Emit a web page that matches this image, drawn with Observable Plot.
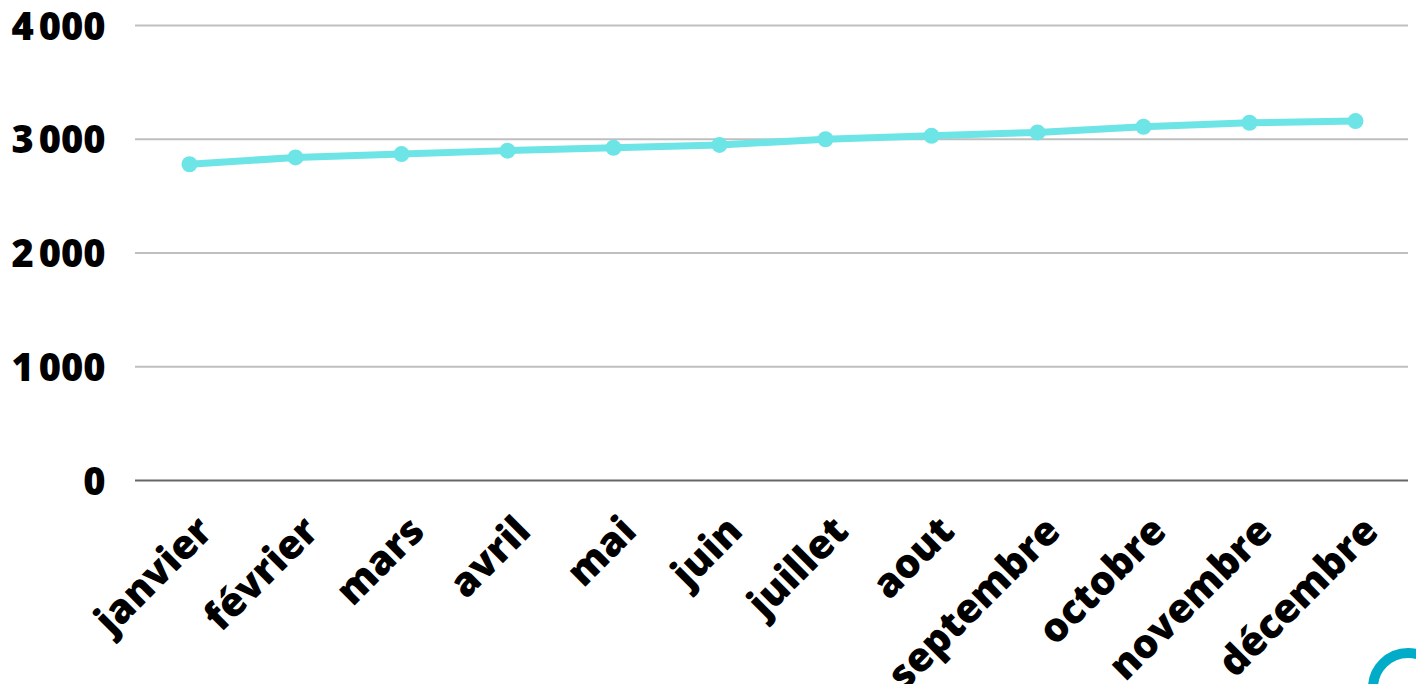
<!DOCTYPE html>
<html><head><meta charset="utf-8">
<script src="https://cdn.jsdelivr.net/npm/d3@7"></script>
<script src="https://cdn.jsdelivr.net/npm/@observablehq/plot@0.6"></script>
<style>
html,body{margin:0;padding:0;background:#fff;overflow:hidden;}
#chart{position:relative;width:1416px;height:684px;}
#logo{position:absolute;left:1368px;top:648px;width:80px;height:80px;border-radius:50%;border:10px solid #00acc8;box-sizing:border-box;}
</style></head>
<body><div id="chart"><div id="logo"></div></div>
<script>
const months = ["janvier","février","mars","avril","mai","juin","juillet","aout","septembre","octobre","novembre","décembre"];
const values = [2780,2840,2870,2900,2925,2950,3000,3030,3060,3110,3145,3160];
const yTicks = [0,1000,2000,3000,4000];
const data = months.map((m,i)=>({month:m, value:values[i]}));
const fmt = d => d === 0 ? "0" : d3.format(",")(d).replace(",", "\u202F");
const font = "'Open Sans', sans-serif";
const plot = Plot.plot({
  width:1416, height:684,
  marginLeft:135, marginRight:8, marginTop:25, marginBottom:204,
  style:{fontFamily:font, fontWeight:800, background:"#fff", color:"#000"},
  x:{type:"point", domain:months, padding:0.5, label:null},
  y:{domain:[0,4000], label:null},
  marks:[
    Plot.gridY(yTicks.filter(d=>d>0), {stroke:"#bfbfbf", strokeOpacity:1, strokeWidth:2}),
    Plot.ruleY([0], {stroke:"#666", strokeWidth:2}),
    Plot.axisY(yTicks, {tickSize:0, tickPadding:30, tickFormat:fmt, fontSize:38, fontWeight:800, fill:"#000", stroke:"#000", strokeWidth:0.8, dy:2}),
    Plot.axisX({tickSize:0, tickRotate:-45, fontSize:40, fontWeight:800, fill:"#000", stroke:"#000", strokeWidth:0.8, dx:16, dy:32}),
    Plot.line(data, {x:"month", y:"value", stroke:"#6de4e6", strokeWidth:7}),
    Plot.dot(data, {x:"month", y:"value", fill:"#6de4e6", r:8})
  ]
});
document.getElementById("chart").prepend(plot);
</script></body></html>
